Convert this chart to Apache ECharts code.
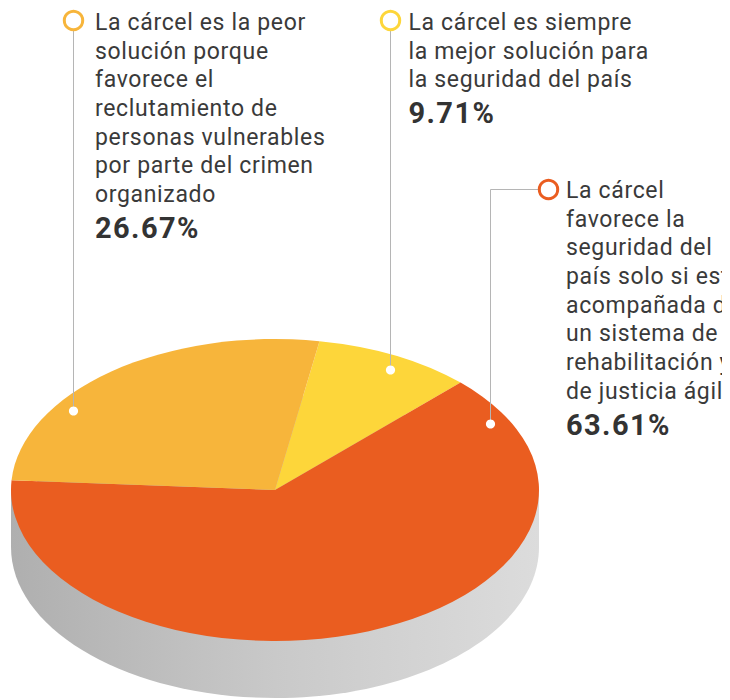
<!DOCTYPE html>
<html>
<head>
<meta charset="utf-8">
<style>
html, body { margin: 0; padding: 0; background: #fff; }
#main { width: 722px; height: 700px; overflow: hidden; }
#main text { letter-spacing: 0.65px; }
#main text[font-weight="bold"], #main text[style*="bold"] { letter-spacing: 1.4px; }
</style>
<script src="https://cdn.jsdelivr.net/npm/echarts@6/dist/echarts.min.js"></script>
</head>
<body>
<div id="main"></div>
<script>
var chartDom = document.getElementById('main');
var myChart = echarts.init(chartDom, null, { renderer: 'svg' });

// slices, clockwise from the yellow one
var categories = ['Siempre la mejor', 'Solo con rehabilitación', 'La peor solución'];
var values = [9.71, 63.61, 26.67];
var labelsYellow = ['La cárcel es siempre', 'la mejor solución para', 'la seguridad del país'];
var labelsOrange = ['La cárcel', 'favorece la', 'seguridad del', 'país solo si está', 'acompañada de', 'un sistema de', 'rehabilitación y', 'de justicia ágil'];
var labelsAmber = ['La cárcel es la peor', 'solución porque', 'favorece el', 'reclutamiento de', 'personas vulnerables', 'por parte del crimen', 'organizado'];

var colors = ['#FDD63A', '#EA5D20', '#F7B53B'];
var fontName = 'Roboto';

// flat ellipse of the disc
var cx = 275, cy = 490, rx = 264, ry = 151, depth = 57;
var startDeg = -80.3; // where the yellow slice starts, 0 = pointing right

var total = values.reduce(function (a, b) { return a + b; }, 0);

function renderSlice(params, api) {
    var before = 0;
    for (var i = 0; i < params.dataIndex; i++) before += values[i];
    var a0 = (startDeg + before / total * 360) * Math.PI / 180;
    var a1 = (startDeg + (before + api.value(0)) / total * 360) * Math.PI / 180;
    return {
        type: 'sector',
        x: cx,
        y: cy,
        scaleY: ry / rx,
        shape: { cx: 0, cy: 0, r0: 0, r: rx, startAngle: a0, endAngle: a1, clockwise: true },
        style: { fill: colors[params.dataIndex] }
    };
}

var wallFill = new echarts.graphic.LinearGradient(0, 0, 1, 0, [
    { offset: 0, color: '#AFAFAF' },
    { offset: 0.5, color: '#C9C9C9' },
    { offset: 1, color: '#DCDCDC' }
]);

function textBlock(x, y, lines, value) {
    return [
        {
            type: 'text', x: x, y: y, z: 20,
            style: { text: lines.join('\n'), fill: '#3A3A3A', font: '23px ' + fontName, lineHeight: 28.7, verticalAlign: 'top' }
        },
        {
            type: 'text', x: x, y: y + lines.length * 28.7 + 3, z: 20,
            style: { text: value.toFixed(2) + '%', fill: '#333333', font: 'bold 29px ' + fontName, lineHeight: 32, verticalAlign: 'top' }
        }
    ];
}

function ring(x, y, color) {
    return { type: 'circle', z: 15, shape: { cx: x, cy: y, r: 9.2 }, style: { fill: '#fff', stroke: color, lineWidth: 3 } };
}

function dot(x, y) {
    return { type: 'circle', z: 15, shape: { cx: x, cy: y, r: 4.6 }, style: { fill: '#fff' } };
}

function leader(points) {
    return { type: 'polyline', z: 10, shape: { points: points }, style: { fill: null, stroke: '#B5B5B5', lineWidth: 1 } };
}

var option = {
    animation: false,
    backgroundColor: '#fff',
    graphic: { elements: [
        // side wall
        { type: 'ellipse', z: 0, shape: { cx: cx, cy: cy + depth, rx: rx, ry: ry }, style: { fill: wallFill } },
        { type: 'rect', z: 0, shape: { x: cx - rx, y: cy, width: 2 * rx, height: depth }, style: { fill: wallFill } },
        // leaders
        leader([[73.5, 31], [73.5, 411]]),
        leader([[390.5, 31], [390.5, 370]]),
        leader([[538, 189.5], [490.5, 189.5], [490.5, 424]]),
        ring(73.5, 20.5, colors[2]),
        ring(390.5, 20.5, colors[0]),
        ring(548.5, 189.5, colors[1]),
        dot(73.5, 411),
        dot(390.5, 370),
        dot(490.5, 424)
    ].concat(
        textBlock(95, 8, labelsAmber, values[2]),
        textBlock(408.5, 8, labelsYellow, values[0]),
        textBlock(566, 176, labelsOrange, values[1])
    ) },
    series: [{
        type: 'custom',
        coordinateSystem: 'none',
        z: 5,
        silent: true,
        renderItem: renderSlice,
        data: categories.map(function (name, i) { return { name: name, value: [values[i]] }; })
    }]
};

option && myChart.setOption(option);
</script>
</body>
</html>
